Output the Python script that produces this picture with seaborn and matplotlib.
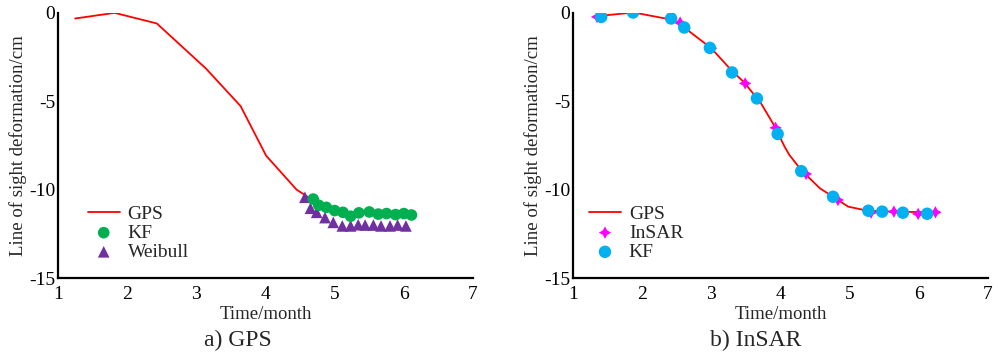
import numpy as np
import pandas as pd
import seaborn as sns
import matplotlib.pyplot as plt

sns.set_theme(style="white")
plt.rcParams['font.family'] = ['Liberation Serif', 'DejaVu Serif']
plt.rcParams['mathtext.fontset'] = 'stix'

# ---- panel a) GPS ----
gps_a_x = [1.25, 1.82, 2.43, 3.14, 3.64, 4.01, 4.45, 4.57, 4.75, 5.0, 5.25, 5.5, 5.75, 6.0, 6.1]
gps_a_y = [-0.32, 0.0, -0.6, -3.15, -5.27, -8.08, -10.0, -10.3, -10.8, -11.1, -11.3, -11.28, -11.3, -11.33, -11.35]

kf_a_x = [4.69, 4.77, 4.88, 5.00, 5.12, 5.23, 5.35, 5.50, 5.63, 5.75, 5.88, 6.00, 6.11]
kf_a_y = [-10.53, -10.88, -11.0, -11.18, -11.28, -11.50, -11.31, -11.26, -11.38, -11.35, -11.41, -11.35, -11.43]

wb_a_x = [4.57, 4.65, 4.74, 4.86, 4.98, 5.11, 5.23, 5.34, 5.44, 5.56, 5.67, 5.80, 5.91, 6.03]
wb_a_y = [-10.43, -11.05, -11.28, -11.58, -11.85, -12.05, -12.05, -11.98, -12.0, -12.0, -12.05, -12.05, -12.0, -12.05]

# ---- panel b) InSAR ----
gps_b_x = [1.34, 1.88, 2.42, 2.6, 3.0, 3.29, 3.48, 3.72, 3.92, 4.06, 4.13, 4.30, 4.57, 4.76, 4.98, 5.26, 5.6, 6.23]
gps_b_y = [-0.19, 0.02, -0.38, -0.8, -2.0, -3.24, -3.95, -5.12, -6.44, -7.57, -8.04, -8.89, -9.92, -10.4, -10.96, -11.19, -11.24, -11.28]

insar_b_x = [1.35, 1.89, 2.55, 3.00, 3.49, 3.93, 4.37, 4.83, 5.31, 5.64, 5.99, 6.24]
insar_b_y = [-0.23, 0.02, -0.55, -2.0, -3.99, -6.5, -9.11, -10.58, -11.3, -11.24, -11.37, -11.28]

kf_b_x = [1.41, 1.87, 2.42, 2.61, 2.98, 3.30, 3.66, 3.96, 4.30, 4.76, 5.27, 5.47, 5.77, 6.12]
kf_b_y = [-0.23, 0.02, -0.32, -0.83, -1.98, -3.37, -4.84, -6.85, -8.95, -10.40, -11.19, -11.24, -11.30, -11.36]

xticks = [1, 2, 3, 4, 5, 6, 7]
yticks = [0, -5, -10, -15]

RED = '#FF0000'
GREEN = '#00B050'
PURPLE = '#7030A0'
MAGENTA = '#FF00FF'
BLUE = '#00B0F0'

fig = plt.figure(figsize=(9.98, 3.57), dpi=100)
axA = fig.add_axes([0.058, 0.221, 0.416, 0.743])
axB = fig.add_axes([0.574, 0.221, 0.416, 0.743])

FS_TICK = 14
FS_LAB = 13.5
FS_LEG = 14

def style(ax):
    ax.set_xlim(1, 7)
    ax.set_ylim(-15, 0)
    ax.set_xticks(xticks)
    ax.set_yticks(yticks)
    ax.set_xticklabels([str(t) for t in xticks], fontsize=FS_TICK)
    ax.set_yticklabels([str(t) for t in yticks], fontsize=FS_TICK)
    for s in ['top', 'right']:
        ax.spines[s].set_visible(False)
    for s in ['left', 'bottom']:
        ax.spines[s].set_color('black')
        ax.spines[s].set_linewidth(1.6)
    ax.tick_params(direction='in', length=5, width=1.5, colors='black', labelsize=FS_TICK)
    ax.tick_params(axis='x', pad=6)
    ax.tick_params(axis='y', pad=2)
    ax.set_xlabel('Time/month', fontsize=FS_LAB, labelpad=2)
    ax.set_ylabel('Line of sight deformation/cm', fontsize=FS_LAB, labelpad=1)
    ax.grid(False)
    ax.set_facecolor('white')

leg_kw = dict(loc='upper left', frameon=False, fontsize=FS_LEG, handlelength=1.65,
              labelspacing=0.08, handletextpad=0.4, borderaxespad=0)

# panel a
sns.lineplot(x=gps_a_x, y=gps_a_y, ax=axA, color=RED, linewidth=1.3, label='GPS', sort=False)
sns.scatterplot(x=kf_a_x, y=kf_a_y, ax=axA, color=GREEN, marker='o', s=70, edgecolor='none', label='KF', zorder=3)
sns.scatterplot(x=wb_a_x, y=wb_a_y, ax=axA, color=PURPLE, marker='^', s=70, edgecolor='none', label='Weibull', zorder=2)
style(axA)
axA.legend(bbox_to_anchor=(0.053, 0.305), **leg_kw)

# panel b
sns.lineplot(x=gps_b_x, y=gps_b_y, ax=axB, color=RED, linewidth=1.3, label='GPS', sort=False)
sns.scatterplot(x=insar_b_x, y=insar_b_y, ax=axB, color=MAGENTA, marker=(4, 1, 0), s=80, edgecolor='none', label='InSAR', zorder=3)
sns.scatterplot(x=kf_b_x, y=kf_b_y, ax=axB, color=BLUE, marker='o', s=80, edgecolor='none', label='KF', zorder=4)
style(axB)
axB.legend(bbox_to_anchor=(0.02, 0.305), **leg_kw)

fig.text(238 / 998, 1 - 340 / 357, 'a) GPS', ha='center', va='center', fontsize=17)
fig.text(756 / 998, 1 - 340 / 357, 'b) InSAR', ha='center', va='center', fontsize=17)

fig.savefig('out.png', dpi=100, facecolor='white')
